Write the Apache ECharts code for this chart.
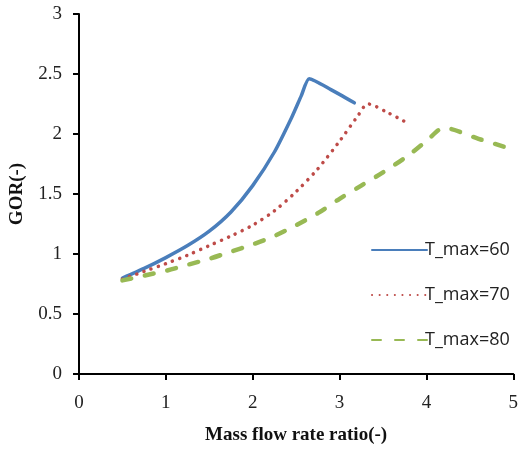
<!DOCTYPE html>
<html>
<head>
<meta charset="utf-8">
<script src="https://cdn.jsdelivr.net/npm/echarts@6/dist/echarts.min.js"></script>
<style>html,body{margin:0;padding:0;background:#fff}#c{width:521px;height:450px}</style>
</head>
<body>
<div id="c"></div>
<script>
const seriesNames = ['T_max=60', 'T_max=70', 'T_max=80'];
const t60 = [[0.5,0.80],[0.75,0.88],[1.0,0.97],[1.25,1.07],[1.5,1.19],[1.75,1.35],[2.0,1.57],[2.25,1.85],[2.45,2.14],[2.56,2.32],[2.65,2.46],[2.9,2.37],[3.17,2.26]];
const t70 = [[0.5,0.79],[0.75,0.855],[1.0,0.92],[1.25,0.99],[1.5,1.07],[1.75,1.15],[2.0,1.24],[2.25,1.36],[2.5,1.52],[2.75,1.71],[3.0,1.94],[3.2,2.14],[3.33,2.25],[3.55,2.18],[3.76,2.10]];
const t80 = [[0.5,0.78],[0.75,0.82],[1.0,0.86],[1.25,0.91],[1.5,0.96],[1.75,1.02],[2.0,1.08],[2.25,1.15],[2.5,1.24],[2.75,1.34],[3.0,1.46],[3.25,1.57],[3.5,1.68],[3.75,1.80],[4.0,1.94],[4.2,2.05],[4.6,1.96],[5.0,1.87]];
const xTicks = [0,1,2,3,4,5];
const yTicks = [0,0.5,1,1.5,2,2.5,3];

const chart = echarts.init(document.getElementById('c'), null, {renderer:'canvas'});
const serif = '"Liberation Serif","Times New Roman",serif';
const axisCommon = {
  axisLine:{show:true,lineStyle:{color:'#000',width:2}},
  axisTick:{show:true,inside:false,length:6,lineStyle:{color:'#000',width:2}},
  splitLine:{show:false},
  axisLabel:{fontFamily:serif,fontSize:19,color:'#222'},
  nameLocation:'middle',
  nameTextStyle:{fontFamily:serif,fontSize:19,fontWeight:'bold',color:'#111'}
};
chart.setOption({
  animation:false,
  backgroundColor:'#fff',
  grid:{left:78,right:5,top:14,bottom:74,containLabel:false},
  xAxis:Object.assign({}, axisCommon, {
    type:'value', min:xTicks[0], max:xTicks[xTicks.length-1], interval:1,
    name:'Mass flow rate ratio(-)', nameGap:52,
    axisLabel:Object.assign({}, axisCommon.axisLabel, {margin:20})
  }),
  yAxis:Object.assign({}, axisCommon, {
    type:'value', min:yTicks[0], max:yTicks[yTicks.length-1], interval:0.5,
    name:'GOR(-)', nameGap:52,
    axisLabel:Object.assign({}, axisCommon.axisLabel, {margin:17})
  }),
  legend:{
    orient:'vertical', left:366, top:236, itemWidth:55, itemHeight:14, itemGap:27,
    itemStyle:{opacity:0},
    textStyle:{fontFamily:'"Open Sans","Liberation Sans",sans-serif',fontSize:18,color:'#222',padding:[0,0,0,-7]},
    data:seriesNames
  },
  series:[
    {name:seriesNames[0],type:'line',data:t60,symbol:'none',smooth:0.2,color:'#4A7EBB',
     lineStyle:{color:'#4A7EBB',width:3.5,cap:'round',join:'round'}},
    {name:seriesNames[1],type:'line',data:t70,symbol:'none',smooth:0.3,color:'#BE4B48',
     lineStyle:{color:'#BE4B48',width:3.5,type:[0.1,7.5],cap:'round',join:'round'}},
    {name:seriesNames[2],type:'line',data:t80,symbol:'none',smooth:0.3,color:'#98B954',
     lineStyle:{color:'#98B954',width:4.5,type:[9,14],cap:'round',join:'round'}}
  ]
});
</script>
</body>
</html>
